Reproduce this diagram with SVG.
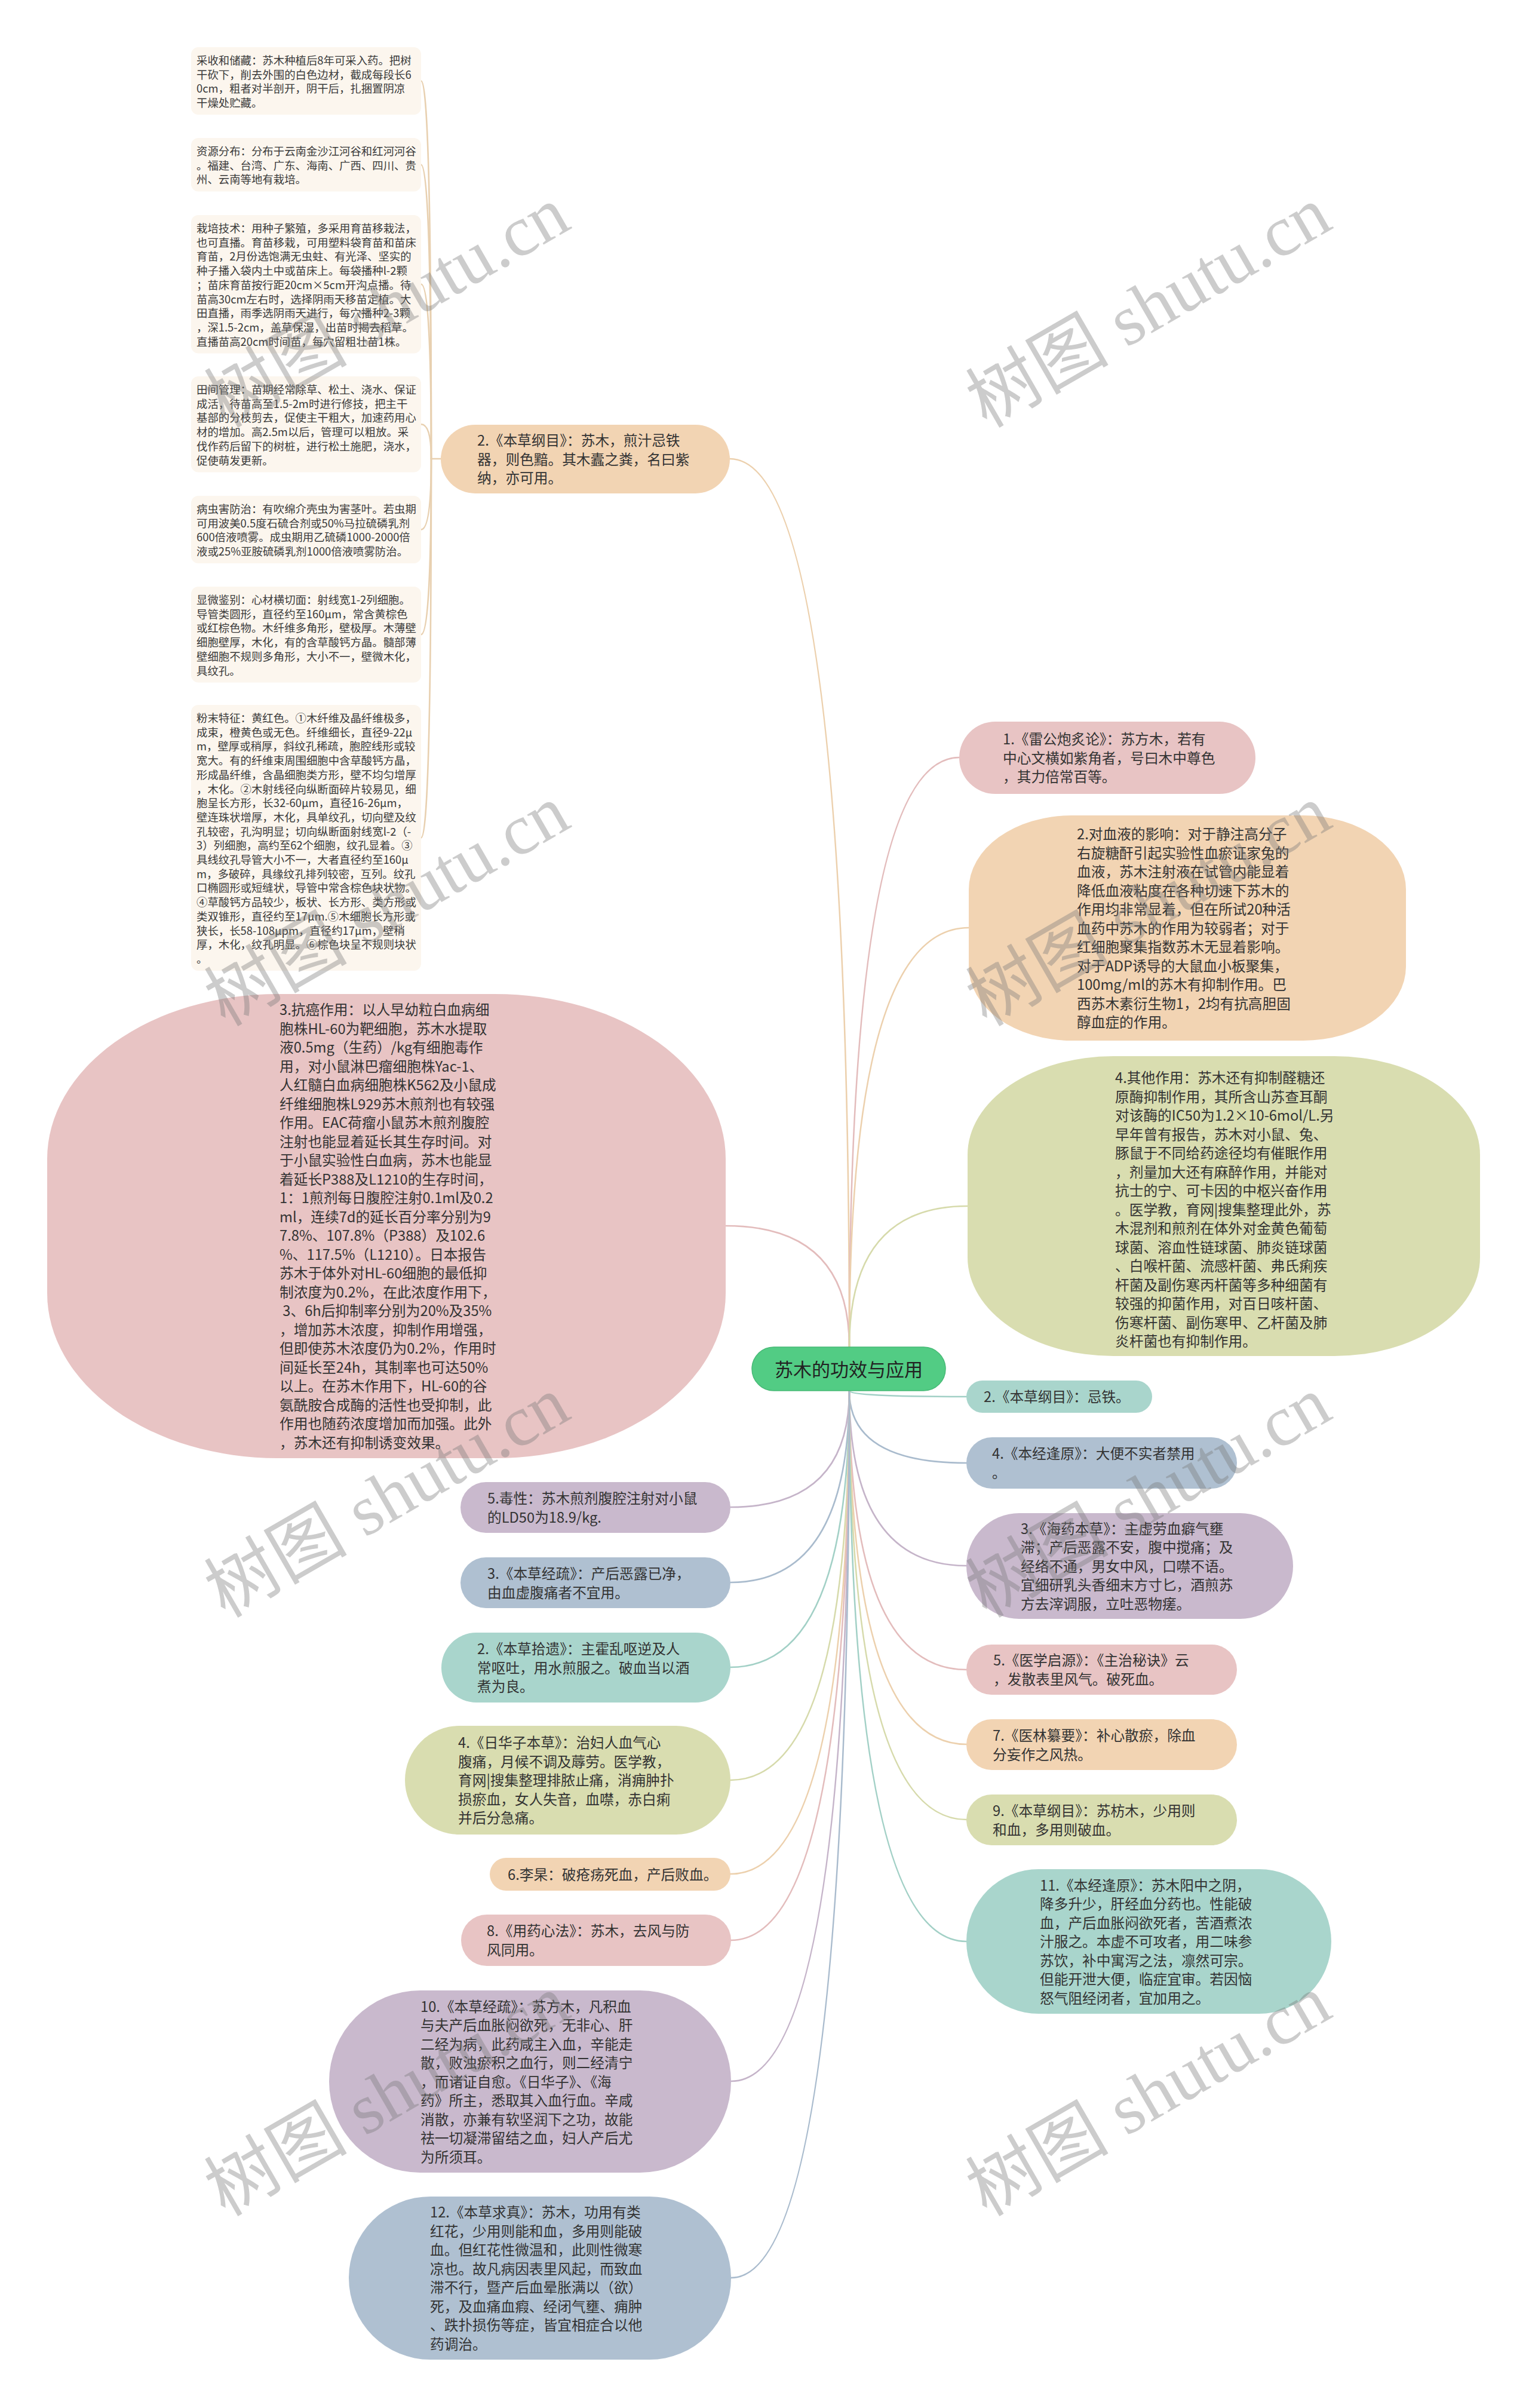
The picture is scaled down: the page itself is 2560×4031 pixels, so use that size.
<svg xmlns="http://www.w3.org/2000/svg" width="2560" height="4031" viewBox="0 0 2560 4031">
<style>
.t{font-family:"Noto Sans CJK SC","Noto Sans",sans-serif;font-size:23.7px;fill:#333333}
.n{font-family:"Noto Sans CJK SC","Noto Sans",sans-serif;font-size:18.4px;fill:#3a3a3a}
.note{fill:#fcf6ee}
.pk{fill:#e8c4c4}.pe{fill:#f2d4b3}.ol{fill:#d9ddb0}.te{fill:#a9d5cc}.bg{fill:#afc0d1}.lv{fill:#c9b9cd}
.c{fill:none;stroke-width:2.6;stroke-linecap:round}
.cpk{stroke:#e3bcbc}.cpe{stroke:#ecd0ad}.col{stroke:#d6daab}.cte{stroke:#a2d0c6}.cbg{stroke:#a9bbcd}.clv{stroke:#c5b4c9}.cno{stroke:#e8d0b0}
.wm{font-family:"Liberation Serif","Noto Sans CJK SC",serif;font-size:120px;fill:#7a7a7a;opacity:0.38}
</style>
<rect width="2560" height="4031" fill="#ffffff"/>
<g id="connectors">
<path class="c cno" d="M738,768 H722"/>
<path class="c cno" d="M722,768 Q722,135.5 705,135.5"/>
<path class="c cno" d="M722,768 Q722,275.7 705,275.7"/>
<path class="c cno" d="M722,768 Q722,475.8 705,475.8"/>
<path class="c cno" d="M722,768 Q722,710.2 705,710.2"/>
<path class="c cno" d="M722,768 Q722,886.5 705,886.5"/>
<path class="c cno" d="M722,768 Q722,1062.2 705,1062.2"/>
<path class="c cno" d="M722,768 Q722,1402.4 705,1402.4"/>
<path class="c cpe" d="M1222,768 Q1422,768 1422,2255"/>
<path class="c cpk" d="M1215,2052 Q1422,2052 1422,2255"/>
<path class="c cpk" d="M1422,2255 Q1422,1268 1606,1268"/>
<path class="c cpe" d="M1422,2255 Q1422,1553 1622,1553"/>
<path class="c col" d="M1422,2255 Q1422,2019 1620,2019"/>
<path class="c cte" d="M1422,2328 Q1422,2338 1618,2338"/>
<path class="c cbg" d="M1422,2328 Q1422,2449 1618,2449"/>
<path class="c clv" d="M1422,2328 Q1422,2621 1618,2621"/>
<path class="c cpk" d="M1422,2328 Q1422,2795 1618,2795"/>
<path class="c cpe" d="M1422,2328 Q1422,2920 1618,2920"/>
<path class="c col" d="M1422,2328 Q1422,3046 1618,3046"/>
<path class="c cte" d="M1422,2328 Q1422,3250 1618,3250"/>
<path class="c clv" d="M1422,2328 Q1422,2523 1223,2523"/>
<path class="c cbg" d="M1422,2328 Q1422,2649 1223,2649"/>
<path class="c cte" d="M1422,2328 Q1422,2791 1223,2791"/>
<path class="c col" d="M1422,2328 Q1422,2980 1223,2980"/>
<path class="c cpe" d="M1422,2328 Q1422,3137 1223,3137"/>
<path class="c cpk" d="M1422,2328 Q1422,3248 1224,3248"/>
<path class="c clv" d="M1422,2328 Q1422,3484 1224,3484"/>
<path class="c cbg" d="M1422,2328 Q1422,3813 1224,3813"/>
</g>
<g id="note1"><rect class="note" x="320" y="79" width="385" height="113" rx="12"/>
<text class="n" x="329" y="108"><tspan x="329" dy="0">采收和储藏：苏木种植后8年可采入药。把树</tspan><tspan x="329" dy="23.7">干砍下，削去外围的白色边材，截成每段长6</tspan><tspan x="329" dy="23.7">0cm，粗者对半剖开，阴干后，扎捆置阴凉</tspan><tspan x="329" dy="23.7">干燥处贮藏。</tspan></text></g>
<g id="note2"><rect class="note" x="320" y="231" width="385" height="89.4" rx="12"/>
<text class="n" x="329" y="260"><tspan x="329" dy="0">资源分布：分布于云南金沙江河谷和红河河谷</tspan><tspan x="329" dy="23.7">。福建、台湾、广东、海南、广西、四川、贵</tspan><tspan x="329" dy="23.7">州、云南等地有栽培。</tspan></text></g>
<g id="note3"><rect class="note" x="320" y="360" width="385" height="231.6" rx="12"/>
<text class="n" x="329" y="389"><tspan x="329" dy="0">栽培技术：用种子繁殖，多采用育苗移栽法，</tspan><tspan x="329" dy="23.7">也可直播。育苗移栽，可用塑料袋育苗和苗床</tspan><tspan x="329" dy="23.7">育苗，2月份选饱满无虫蛀、有光泽、坚实的</tspan><tspan x="329" dy="23.7">种子播入袋内土中或苗床上。每袋播种l-2颗</tspan><tspan x="329" dy="23.7">；苗床育苗按行距20cm×5cm开沟点播。待</tspan><tspan x="329" dy="23.7">苗高30cm左右时，选择阴雨天移苗定植。大</tspan><tspan x="329" dy="23.7">田直播，雨季选阴雨天进行，每穴播种2-3颗</tspan><tspan x="329" dy="23.7">，深1.5-2cm，盖草保湿，出苗时揭去稻草。</tspan><tspan x="329" dy="23.7">直播苗高20cm时间苗，每穴留粗壮苗1株。</tspan></text></g>
<g id="note4"><rect class="note" x="320" y="630" width="385" height="160.5" rx="12"/>
<text class="n" x="329" y="659"><tspan x="329" dy="0">田间管理：苗期经常除草、松土、浇水、保证</tspan><tspan x="329" dy="23.7">成活，待苗高至1.5-2m时进行修技，把主干</tspan><tspan x="329" dy="23.7">基部的分枝剪去，促使主干粗大，加速药用心</tspan><tspan x="329" dy="23.7">材的增加。高2.5m以后，管理可以粗放。采</tspan><tspan x="329" dy="23.7">伐作药后留下的树桩，进行松土施肥，浇水，</tspan><tspan x="329" dy="23.7">促使萌发更新。</tspan></text></g>
<g id="note5"><rect class="note" x="320" y="830" width="385" height="113.1" rx="12"/>
<text class="n" x="329" y="859"><tspan x="329" dy="0">病虫害防治：有吹绵介壳虫为害茎叶。若虫期</tspan><tspan x="329" dy="23.7">可用波美0.5度石硫合剂或50%马拉硫磷乳剂</tspan><tspan x="329" dy="23.7">600倍液喷雾。成虫期用乙硫磷1000-2000倍</tspan><tspan x="329" dy="23.7">液或25%亚胺硫磷乳剂1000倍液喷雾防治。</tspan></text></g>
<g id="note6"><rect class="note" x="320" y="982" width="385" height="160.5" rx="12"/>
<text class="n" x="329" y="1011"><tspan x="329" dy="0">显微鉴别：心材横切面：射线宽1-2列细胞。</tspan><tspan x="329" dy="23.7">导管类圆形，直径约至160μm，常含黄棕色</tspan><tspan x="329" dy="23.7">或红棕色物。木纤维多角形，壁极厚。木薄壁</tspan><tspan x="329" dy="23.7">细胞壁厚，木化，有的含草酸钙方晶。髓部薄</tspan><tspan x="329" dy="23.7">壁细胞不规则多角形，大小不一，壁微木化，</tspan><tspan x="329" dy="23.7">具纹孔。</tspan></text></g>
<g id="note7"><rect class="note" x="320" y="1180" width="385" height="444.9" rx="12"/>
<text class="n" x="329" y="1209"><tspan x="329" dy="0">粉末特征：黄红色。①木纤维及晶纤维极多，</tspan><tspan x="329" dy="23.7">成束，橙黄色或无色。纤维细长，直径9-22μ</tspan><tspan x="329" dy="23.7">m，壁厚或稍厚，斜纹孔稀疏，胞腔线形或较</tspan><tspan x="329" dy="23.7">宽大。有的纤维束周围细胞中含草酸钙方晶，</tspan><tspan x="329" dy="23.7">形成晶纤维，含晶细胞类方形，壁不均匀增厚</tspan><tspan x="329" dy="23.7">，木化。②木射线径向纵断面碎片较易见，细</tspan><tspan x="329" dy="23.7">胞呈长方形，长32-60μm，直径16-26μm，</tspan><tspan x="329" dy="23.7">壁连珠状增厚，木化，具单纹孔，切向壁及纹</tspan><tspan x="329" dy="23.7">孔较密，孔沟明显；切向纵断面射线宽l-2（-</tspan><tspan x="329" dy="23.7">3）列细胞，高约至62个细胞，纹孔显着。③</tspan><tspan x="329" dy="23.7">具线纹孔导管大小不一，大者直径约至160μ</tspan><tspan x="329" dy="23.7">m，多破碎，具缘纹孔排列较密，互列。纹孔</tspan><tspan x="329" dy="23.7">口椭圆形或短缝状，导管中常含棕色块状物。</tspan><tspan x="329" dy="23.7">④草酸钙方品较少，板状、长方形、类方形或</tspan><tspan x="329" dy="23.7">类双锥形，直径约至17μm.⑤木细胞长方形或</tspan><tspan x="329" dy="23.7">狭长，长58-108μpm，直径约17μm，壁稍</tspan><tspan x="329" dy="23.7">厚，木化，纹孔明显。⑥棕色块呈不规则块状</tspan><tspan x="329" dy="23.7">。</tspan></text></g>
<g id="node-bencao-gangmu-tie"><rect class="pe" x="738" y="711" width="484" height="115" rx="57.5"/>
<text class="t" x="799" y="746"><tspan x="799" dy="0">2.《本草纲目》：苏木，煎汁忌铁</tspan><tspan x="799" dy="31.5">器，则色黯。其木蠹之粪，名曰紫</tspan><tspan x="799" dy="31.5">纳，亦可用。</tspan></text></g>
<g id="node-kangai"><rect class="pk" x="79" y="1664" width="1136" height="777" rx="386" ry="276"/>
<text class="t" x="468" y="1699"><tspan x="468" dy="0">3.抗癌作用：以人早幼粒白血病细</tspan><tspan x="468" dy="31.5">胞株HL-60为靶细胞，苏木水提取</tspan><tspan x="468" dy="31.5">液0.5mg（生药）/kg有细胞毒作</tspan><tspan x="468" dy="31.5">用，对小鼠淋巴瘤细胞株Yac-1、</tspan><tspan x="468" dy="31.5">人红髓白血病细胞株K562及小鼠成</tspan><tspan x="468" dy="31.5">纤维细胞株L929苏木煎剂也有较强</tspan><tspan x="468" dy="31.5">作用。EAC荷瘤小鼠苏木煎剂腹腔</tspan><tspan x="468" dy="31.5">注射也能显着延长其生存时间。对</tspan><tspan x="468" dy="31.5">于小鼠实验性白血病，苏木也能显</tspan><tspan x="468" dy="31.5">着延长P388及L1210的生存时间，</tspan><tspan x="468" dy="31.5">1：1煎剂每日腹腔注射0.1ml及0.2</tspan><tspan x="468" dy="31.5">ml，连续7d的延长百分率分别为9</tspan><tspan x="468" dy="31.5">7.8%、107.8%（P388）及102.6</tspan><tspan x="468" dy="31.5">%、117.5%（L1210）。日本报告</tspan><tspan x="468" dy="31.5">苏木于体外对HL-60细胞的最低抑</tspan><tspan x="468" dy="31.5">制浓度为0.2%，在此浓度作用下，</tspan><tspan x="468" dy="31.5"> 3、6h后抑制率分别为20%及35%</tspan><tspan x="468" dy="31.5">，增加苏木浓度，抑制作用增强，</tspan><tspan x="468" dy="31.5">但即使苏木浓度仍为0.2%，作用时</tspan><tspan x="468" dy="31.5">间延长至24h，其制率也可达50%</tspan><tspan x="468" dy="31.5">以上。在苏木作用下，HL-60的谷</tspan><tspan x="468" dy="31.5">氨酰胺合成酶的活性也受抑制，此</tspan><tspan x="468" dy="31.5">作用也随药浓度增加而加强。此外</tspan><tspan x="468" dy="31.5">，苏木还有抑制诱变效果。</tspan></text></g>
<g id="node-duxing"><rect class="lv" x="771" y="2481" width="452" height="85" rx="42.5"/>
<text class="t" x="816" y="2517"><tspan x="816" dy="0">5.毒性：苏木煎剂腹腔注射对小鼠</tspan><tspan x="816" dy="31.5">的LD50为18.9/kg.</tspan></text></g>
<g id="node-bencao-jingshu-3"><rect class="bg" x="771" y="2607" width="452" height="85" rx="42.5"/>
<text class="t" x="816" y="2643"><tspan x="816" dy="0">3.《本草经疏》：产后恶露已净，</tspan><tspan x="816" dy="31.5">由血虚腹痛者不宜用。</tspan></text></g>
<g id="node-bencao-shiyi"><rect class="te" x="739" y="2733" width="484" height="117" rx="58.5"/>
<text class="t" x="799" y="2769"><tspan x="799" dy="0">2.《本草拾遗》：主霍乱呕逆及人</tspan><tspan x="799" dy="31.5">常呕吐，用水煎服之。破血当以酒</tspan><tspan x="799" dy="31.5">煮为良。</tspan></text></g>
<g id="node-rihuazi"><rect class="ol" x="678" y="2889" width="545" height="182" rx="91"/>
<text class="t" x="767" y="2926"><tspan x="767" dy="0">4.《日华子本草》：治妇人血气心</tspan><tspan x="767" dy="31.5">腹痛，月候不调及蓐劳。医学教，</tspan><tspan x="767" dy="31.5">育网|搜集整理排脓止痛，消痈肿扑</tspan><tspan x="767" dy="31.5">损瘀血，女人失音，血噤，赤白痢</tspan><tspan x="767" dy="31.5">并后分急痛。</tspan></text></g>
<g id="node-ligao"><rect class="pe" x="820" y="3110" width="403" height="55" rx="27.5"/>
<text class="t" x="850" y="3146.5">6.李杲：破疮疡死血，产后败血。</text></g>
<g id="node-yongyao-xinfa"><rect class="pk" x="772" y="3205" width="452" height="86" rx="43"/>
<text class="t" x="815" y="3241"><tspan x="815" dy="0">8.《用药心法》：苏木，去风与防</tspan><tspan x="815" dy="31.5">风同用。</tspan></text></g>
<g id="node-bencao-jingshu-10"><rect class="lv" x="551" y="3332" width="673" height="305" rx="152.5"/>
<text class="t" x="704" y="3367.5"><tspan x="704" dy="0">10.《本草经疏》：苏方木，凡积血</tspan><tspan x="704" dy="31.5">与夫产后血胀闷欲死，无非心、肝</tspan><tspan x="704" dy="31.5">二经为病，此药咸主入血，辛能走</tspan><tspan x="704" dy="31.5">散，败浊瘀积之血行，则二经清宁</tspan><tspan x="704" dy="31.5">，而诸证自愈。《日华子》、《海</tspan><tspan x="704" dy="31.5">药》所主，悉取其入血行血。辛咸</tspan><tspan x="704" dy="31.5">消散，亦兼有软坚润下之功，故能</tspan><tspan x="704" dy="31.5">祛一切凝滞留结之血，妇人产后尤</tspan><tspan x="704" dy="31.5">为所须耳。</tspan></text></g>
<g id="node-bencao-qiuzhen"><rect class="bg" x="584" y="3677" width="640" height="273" rx="136.5"/>
<text class="t" x="720" y="3712"><tspan x="720" dy="0">12.《本草求真》：苏木，功用有类</tspan><tspan x="720" dy="31.5">红花，少用则能和血，多用则能破</tspan><tspan x="720" dy="31.5">血。但红花性微温和，此则性微寒</tspan><tspan x="720" dy="31.5">凉也。故凡病因表里风起，而致血</tspan><tspan x="720" dy="31.5">滞不行，暨产后血晕胀满以（欲）</tspan><tspan x="720" dy="31.5">死，及血痛血瘕、经闭气壅、痈肿</tspan><tspan x="720" dy="31.5">、跌扑损伤等症，皆宜相症合以他</tspan><tspan x="720" dy="31.5">药调治。</tspan></text></g>
<g id="node-leigong"><rect class="pk" x="1606" y="1208" width="496" height="121" rx="60.5"/>
<text class="t" x="1679" y="1246"><tspan x="1679" dy="0">1.《雷公炮炙论》：苏方木，若有</tspan><tspan x="1679" dy="31.5">中心文横如紫角者，号曰木中尊色</tspan><tspan x="1679" dy="31.5">，其力倍常百等。</tspan></text></g>
<g id="node-xueye"><rect class="pe" x="1622" y="1365" width="732" height="377" rx="172" ry="124"/>
<text class="t" x="1803" y="1405"><tspan x="1803" dy="0">2.对血液的影响：对于静注高分子</tspan><tspan x="1803" dy="31.5">右旋糖酐引起实验性血瘀证家兔的</tspan><tspan x="1803" dy="31.5">血液，苏木注射液在试管内能显着</tspan><tspan x="1803" dy="31.5">降低血液粘度在各种切速下苏木的</tspan><tspan x="1803" dy="31.5">作用均非常显着，但在所试20种活</tspan><tspan x="1803" dy="31.5">血药中苏木的作用为较弱者；对于</tspan><tspan x="1803" dy="31.5">红细胞聚集指数苏木无显着影响。</tspan><tspan x="1803" dy="31.5">对于ADP诱导的大鼠血小板聚集，</tspan><tspan x="1803" dy="31.5">100mg/ml的苏木有抑制作用。巴</tspan><tspan x="1803" dy="31.5">西苏木素衍生物1，2均有抗高胆固</tspan><tspan x="1803" dy="31.5">醇血症的作用。</tspan></text></g>
<g id="node-qita"><rect class="ol" x="1620" y="1768" width="858" height="502" rx="244" ry="165"/>
<text class="t" x="1867" y="1813"><tspan x="1867" dy="0">4.其他作用：苏木还有抑制醛糖还</tspan><tspan x="1867" dy="31.5">原酶抑制作用，其所含山苏查耳酮</tspan><tspan x="1867" dy="31.5">对该酶的IC50为1.2×10-6mol/L.另</tspan><tspan x="1867" dy="31.5">早年曾有报告，苏木对小鼠、兔、</tspan><tspan x="1867" dy="31.5">豚鼠于不同给药途径均有催眠作用</tspan><tspan x="1867" dy="31.5">，剂量加大还有麻醉作用，并能对</tspan><tspan x="1867" dy="31.5">抗士的宁、可卡因的中枢兴奋作用</tspan><tspan x="1867" dy="31.5">。医学教，育网|搜集整理此外，苏</tspan><tspan x="1867" dy="31.5">木混剂和煎剂在体外对金黄色葡萄</tspan><tspan x="1867" dy="31.5">球菌、溶血性链球菌、肺炎链球菌</tspan><tspan x="1867" dy="31.5">、白喉杆菌、流感杆菌、弗氏痢疾</tspan><tspan x="1867" dy="31.5">杆菌及副伤寒丙杆菌等多种细菌有</tspan><tspan x="1867" dy="31.5">较强的抑菌作用，对百日咳杆菌、</tspan><tspan x="1867" dy="31.5">伤寒杆菌、副伤寒甲、乙杆菌及肺</tspan><tspan x="1867" dy="31.5">炎杆菌也有抑制作用。</tspan></text></g>
<g id="node-bencao-gangmu-jitie"><rect class="te" x="1618" y="2311" width="311" height="54" rx="27"/>
<text class="t" x="1647" y="2347">2.《本草纲目》：忌铁。</text></g>
<g id="node-benjing-fengyuan-4"><rect class="bg" x="1618" y="2406" width="453" height="86" rx="43"/>
<text class="t" x="1661" y="2442"><tspan x="1661" dy="0">4.《本经逢原》：大便不实者禁用</tspan><tspan x="1661" dy="31.5">。</tspan></text></g>
<g id="node-haiyao"><rect class="lv" x="1618" y="2533" width="547" height="177" rx="88.5"/>
<text class="t" x="1709" y="2567.5"><tspan x="1709" dy="0">3.《海药本草》：主虚劳血癖气壅</tspan><tspan x="1709" dy="31.5">滞；产后恶露不安，腹中搅痛；及</tspan><tspan x="1709" dy="31.5">经络不通，男女中风，口噤不语。</tspan><tspan x="1709" dy="31.5">宜细研乳头香细末方寸匕，酒煎苏</tspan><tspan x="1709" dy="31.5">方去滓调服，立吐恶物瘥。</tspan></text></g>
<g id="node-yixue-qiyuan"><rect class="pk" x="1618" y="2753" width="453" height="84" rx="42"/>
<text class="t" x="1663" y="2788"><tspan x="1663" dy="0">5.《医学启源》：《主治秘诀》云</tspan><tspan x="1663" dy="31.5">，发散表里风气。破死血。</tspan></text></g>
<g id="node-yilin-zuanyao"><rect class="pe" x="1618" y="2878" width="453" height="85" rx="42.5"/>
<text class="t" x="1662" y="2914"><tspan x="1662" dy="0">7.《医林纂要》：补心散瘀，除血</tspan><tspan x="1662" dy="31.5">分妄作之风热。</tspan></text></g>
<g id="node-bencao-gangmu-9"><rect class="ol" x="1618" y="3004" width="453" height="85" rx="42.5"/>
<text class="t" x="1662" y="3040"><tspan x="1662" dy="0">9.《本草纲目》：苏枋木，少用则</tspan><tspan x="1662" dy="31.5">和血，多用则破血。</tspan></text></g>
<g id="node-benjing-fengyuan-11"><rect class="te" x="1618" y="3129" width="611" height="242" rx="121"/>
<text class="t" x="1741" y="3164.5"><tspan x="1741" dy="0">11.《本经逢原》：苏木阳中之阴，</tspan><tspan x="1741" dy="31.5">降多升少，肝经血分药也。性能破</tspan><tspan x="1741" dy="31.5">血，产后血胀闷欲死者，苦酒煮浓</tspan><tspan x="1741" dy="31.5">汁服之。本虚不可攻者，用二味参</tspan><tspan x="1741" dy="31.5">苏饮，补中寓泻之法，凛然可宗。</tspan><tspan x="1741" dy="31.5">但能开泄大便，临症宜审。若因恼</tspan><tspan x="1741" dy="31.5">怒气阻经闭者，宜加用之。</tspan></text></g>
<g id="root"><rect x="1259" y="2255" width="324" height="73" rx="36.5" fill="#52cc84" stroke="#47b976" stroke-width="1.5"/>
<text x="1421" y="2304" text-anchor="middle" style="font-family:'Noto Sans CJK SC','Noto Sans',sans-serif;font-size:31px;fill:#222222">苏木的功效与应用</text></g>
<g id="watermarks">
<text class="wm" text-anchor="middle" dominant-baseline="central" transform="translate(648,514) rotate(-30)">树图 shutu.cn</text>
<text class="wm" text-anchor="middle" dominant-baseline="central" transform="translate(1923,514) rotate(-30)">树图 shutu.cn</text>
<text class="wm" text-anchor="middle" dominant-baseline="central" transform="translate(648,1516) rotate(-30)">树图 shutu.cn</text>
<text class="wm" text-anchor="middle" dominant-baseline="central" transform="translate(1923,1516) rotate(-30)">树图 shutu.cn</text>
<text class="wm" text-anchor="middle" dominant-baseline="central" transform="translate(648,2506) rotate(-30)">树图 shutu.cn</text>
<text class="wm" text-anchor="middle" dominant-baseline="central" transform="translate(1923,2506) rotate(-30)">树图 shutu.cn</text>
<text class="wm" text-anchor="middle" dominant-baseline="central" transform="translate(648,3508) rotate(-30)">树图 shutu.cn</text>
<text class="wm" text-anchor="middle" dominant-baseline="central" transform="translate(1923,3508) rotate(-30)">树图 shutu.cn</text>
</g>
</svg>
